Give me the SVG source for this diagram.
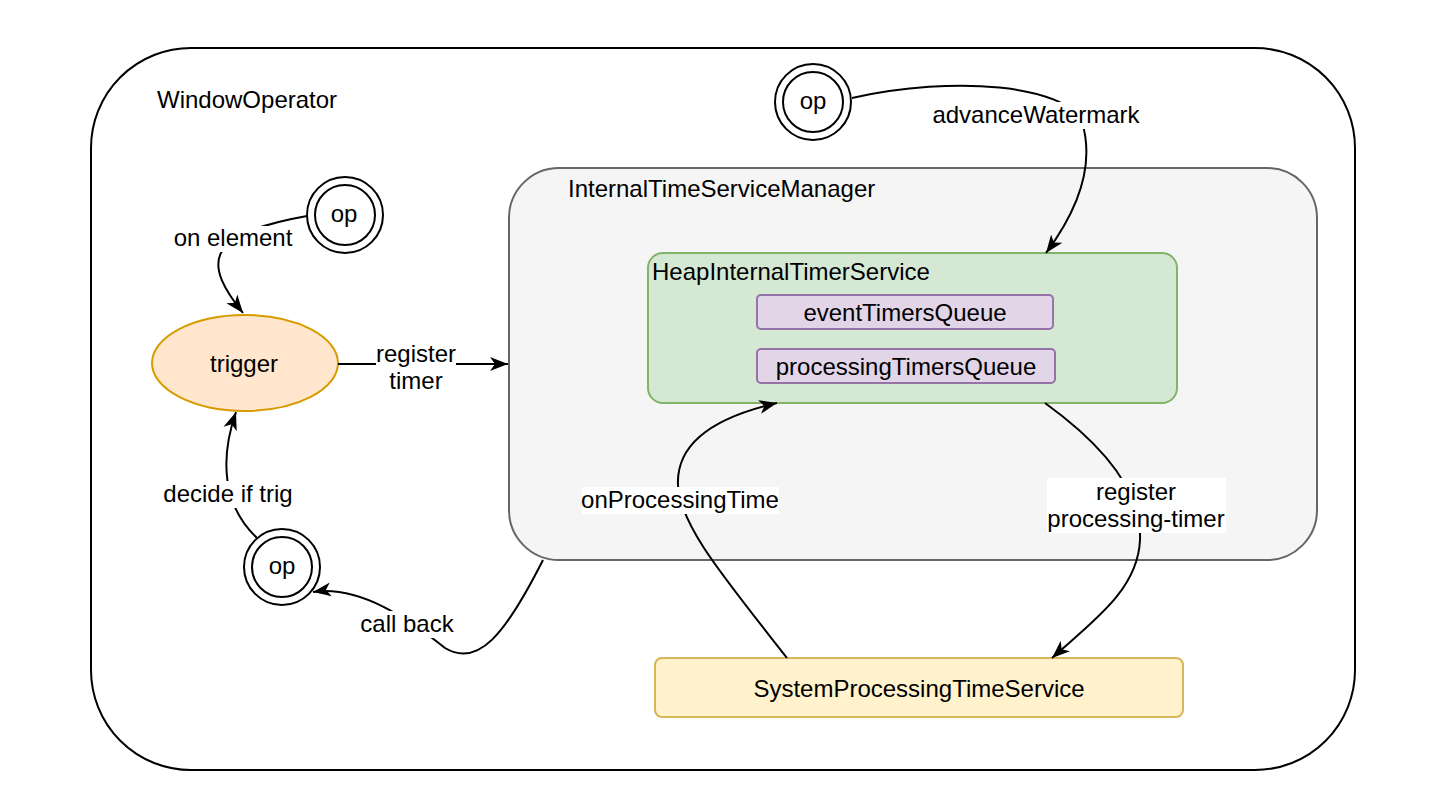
<svg xmlns="http://www.w3.org/2000/svg" width="1434" height="806" viewBox="0 0 1434 806">
<defs>
<style>
text{font-family:"Liberation Sans",Arial,Helvetica,sans-serif;font-size:24px;fill:#000}
.c{text-anchor:middle}
.edge{fill:none;stroke:#000;stroke-width:2}
.lbg{fill:#fff}
.dc{fill:#fff;stroke:#000;stroke-width:2}
</style>
<marker id="arr" markerUnits="userSpaceOnUse" markerWidth="20" markerHeight="16" refX="18" refY="8" orient="auto" viewBox="0 0 20 16">
<path d="M0,1 L18,8 L0,15 L5,8 Z" fill="#000"/>
</marker>
</defs>
<rect width="1434" height="806" fill="#fff"/>
<g id="windowOperator">
<rect x="91" y="48" width="1264" height="722" rx="100" ry="100" fill="#fff" stroke="#000" stroke-width="2"/>
<text x="157" y="108">WindowOperator</text>
</g>
<g id="internalTimeServiceManager">
<rect x="509" y="168" width="808" height="392" rx="50" ry="50" fill="#f5f5f5" stroke="#666" stroke-width="2"/>
<text x="568" y="197">InternalTimeServiceManager</text>
</g>
<g id="heapInternalTimerService">
<rect x="648" y="253" width="529" height="150" rx="15" ry="15" fill="#d5e8d4" stroke="#82b366" stroke-width="2"/>
<text x="652" y="280">HeapInternalTimerService</text>
</g>
<g id="eventTimersQueue">
<rect x="757" y="295" width="296" height="34" rx="4" ry="4" fill="#e1d5e7" stroke="#9673a6" stroke-width="2"/>
<text class="c" x="905" y="321">eventTimersQueue</text>
</g>
<g id="processingTimersQueue">
<rect x="757" y="349" width="298" height="34" rx="4" ry="4" fill="#e1d5e7" stroke="#9673a6" stroke-width="2"/>
<text class="c" x="906" y="375">processingTimersQueue</text>
</g>
<g id="systemProcessingTimeService">
<rect x="655" y="658" width="528" height="59" rx="7" ry="7" fill="#fff2cc" stroke="#d6b656" stroke-width="2"/>
<text class="c" x="919" y="697">SystemProcessingTimeService</text>
</g>
<g id="trigger">
<ellipse cx="245" cy="363" rx="93" ry="48" fill="#ffe6cc" stroke="#d79b00" stroke-width="2"/>
<text class="c" x="244" y="372">trigger</text>
</g>
<g id="opElement">
<circle class="dc" cx="345" cy="215" r="38"/>
<circle class="dc" cx="345" cy="215" r="30"/>
<text class="c" x="344" y="222">op</text>
</g>
<g id="opCallback">
<circle class="dc" cx="282" cy="567" r="38"/>
<circle class="dc" cx="282" cy="567" r="30"/>
<text class="c" x="282" y="574">op</text>
</g>
<g id="opWatermark">
<circle class="dc" cx="813" cy="102" r="38"/>
<circle class="dc" cx="813" cy="102" r="30"/>
<text class="c" x="813" y="109">op</text>
</g>
<g id="connectors">
<path class="edge" d="M307,216 C200,235 205,265 243,313" marker-end="url(#arr)"/>
<path class="edge" d="M338,364 L508,364" marker-end="url(#arr)"/>
<path class="edge" d="M257,538 C222,505 220,458 236,412" marker-end="url(#arr)"/>
<path class="edge" d="M543,560 C505,635 478,668 445,648 C410,620 360,585 313,592" marker-end="url(#arr)"/>
<path class="edge" d="M852,98 C955,75 1065,85 1082,122 C1095,165 1078,210 1046,253" marker-end="url(#arr)"/>
<path class="edge" d="M1045,403 C1110,450 1142,495 1140,540 C1138,590 1092,622 1052,658" marker-end="url(#arr)"/>
<path class="edge" d="M787,658 C722,575 680,525 678,485 C676,440 720,416 777,403" marker-end="url(#arr)"/>
<g id="edgeLabels">
<rect class="lbg" x="171" y="226" width="124" height="26"/>
<text class="c" x="233" y="246">on element</text>
<rect class="lbg" x="376" y="340" width="80" height="54"/>
<text class="c" x="416" y="362">register</text>
<text class="c" x="416" y="389">timer</text>
<rect class="lbg" x="162" y="481" width="133" height="27"/>
<text class="c" x="228" y="502">decide if trig</text>
<rect class="lbg" x="358" y="611" width="98" height="27"/>
<text class="c" x="407" y="632">call back</text>
<rect class="lbg" x="930" y="102" width="212" height="27"/>
<text class="c" x="1036" y="123">advanceWatermark</text>
<rect class="lbg" x="1047" y="478" width="179" height="55"/>
<text class="c" x="1136" y="500">register</text>
<text class="c" x="1136" y="527">processing-timer</text>
<rect class="lbg" x="582" y="487" width="197" height="27"/>
<text class="c" x="680" y="508">onProcessingTime</text>
</g>
</g>
</svg>
